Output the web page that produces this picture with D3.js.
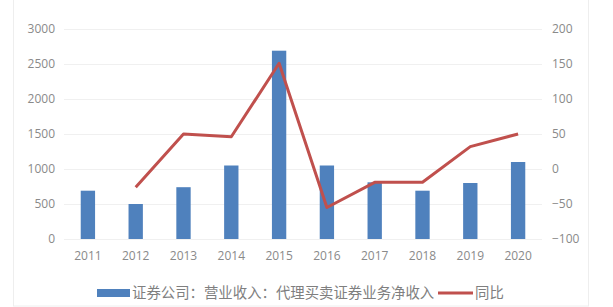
<!DOCTYPE html>
<html>
<head>
<meta charset="utf-8">
<script src="https://d3js.org/d3.v7.min.js"></script>
<style>
  body { margin: 0; background: #fff; }
  .tick text { fill: #8a8a8a; font-family: "Open Sans", sans-serif; font-size: 12px; }
  .legend text { fill: #7f7f7f; font-family: "Noto Sans CJK SC", sans-serif; font-size: 14.4px; }
</style>
</head>
<body>
<script>
var years = ["2011","2012","2013","2014","2015","2016","2017","2018","2019","2020"];
var income = [690, 500, 740, 1050, 2690, 1050, 810, 690, 800, 1100];
var yoy = [null, -26, 50, 46, 151, -55, -19, -19, 32, 50];
var leftTicks = [0, 500, 1000, 1500, 2000, 2500, 3000];
var rightTicks = [-100, -50, 0, 50, 100, 150, 200];
var barName = "证券公司：营业收入：代理买卖证券业务净收入";
var lineName = "同比";

var width = 613, height = 307;
var margin = {left: 64, right: 71, top: 29, bottom: 68};

var svg = d3.select("body").append("svg")
  .attr("width", width)
  .attr("height", height);

// faint chart frame
svg.append("rect")
  .attr("x", 13.5).attr("y", -2)
  .attr("width", 575).attr("height", 308)
  .attr("fill", "none")
  .attr("stroke", "#eeeeee");

var x = d3.scaleBand()
  .domain(years)
  .range([margin.left, width - margin.right])
  .paddingInner(0.7)
  .paddingOuter(0.35);

var y = d3.scaleLinear().domain([0, 3000]).range([height - margin.bottom, margin.top]);
var y2 = d3.scaleLinear().domain([-100, 200]).range([height - margin.bottom, margin.top]);

// gridlines
svg.append("g")
  .selectAll("line")
  .data(leftTicks)
  .enter().append("line")
  .attr("x1", margin.left).attr("x2", width - margin.right)
  .attr("y1", function(d){ return Math.round(y(d)) + 0.5; })
  .attr("y2", function(d){ return Math.round(y(d)) + 0.5; })
  .attr("stroke", "#f0f0f0");

// axes
var leftAxis = svg.append("g")
  .attr("transform", "translate(" + (margin.left - 9) + ",0)")
  .call(d3.axisLeft(y).tickValues(leftTicks).tickFormat(d3.format("d")).tickSize(0).tickPadding(0));
leftAxis.select(".domain").remove();

var rightAxis = svg.append("g")
  .attr("transform", "translate(" + (width - margin.right + 10) + ",0)")
  .call(d3.axisRight(y2).tickValues(rightTicks).tickFormat(d3.format("d")).tickSize(0).tickPadding(0));
rightAxis.select(".domain").remove();

var bottomAxis = svg.append("g")
  .attr("transform", "translate(0," + (height - margin.bottom + 10) + ")")
  .call(d3.axisBottom(x).tickSize(0).tickPadding(0));
bottomAxis.select(".domain").remove();
bottomAxis.selectAll("text").attr("dy", "0.95em");

// bars
svg.append("g")
  .selectAll("rect")
  .data(income)
  .enter().append("rect")
  .attr("x", function(d, i){ return x(years[i]); })
  .attr("width", x.bandwidth())
  .attr("y", function(d){ return y(d); })
  .attr("height", function(d){ return y(0) - y(d); })
  .attr("fill", "#4f81bd");

// line
var line = d3.line()
  .defined(function(d){ return d !== null; })
  .x(function(d, i){ return x(years[i]) + x.bandwidth() / 2; })
  .y(function(d){ return y2(d); });

svg.append("path")
  .datum(yoy)
  .attr("d", line)
  .attr("fill", "none")
  .attr("stroke", "#c0504d")
  .attr("stroke-width", 3)
  .attr("stroke-linejoin", "round");

// legend
var legend = svg.append("g").attr("class", "legend");
legend.append("rect")
  .attr("x", 97).attr("y", 289)
  .attr("width", 33).attr("height", 8)
  .attr("fill", "#4f81bd");
legend.append("text")
  .attr("x", 132).attr("y", 298)
  .text(barName);
legend.append("line")
  .attr("x1", 438).attr("x2", 473)
  .attr("y1", 293).attr("y2", 293)
  .attr("stroke", "#c0504d").attr("stroke-width", 3);
legend.append("text")
  .attr("x", 475).attr("y", 298)
  .text(lineName);
</script>
</body>
</html>
